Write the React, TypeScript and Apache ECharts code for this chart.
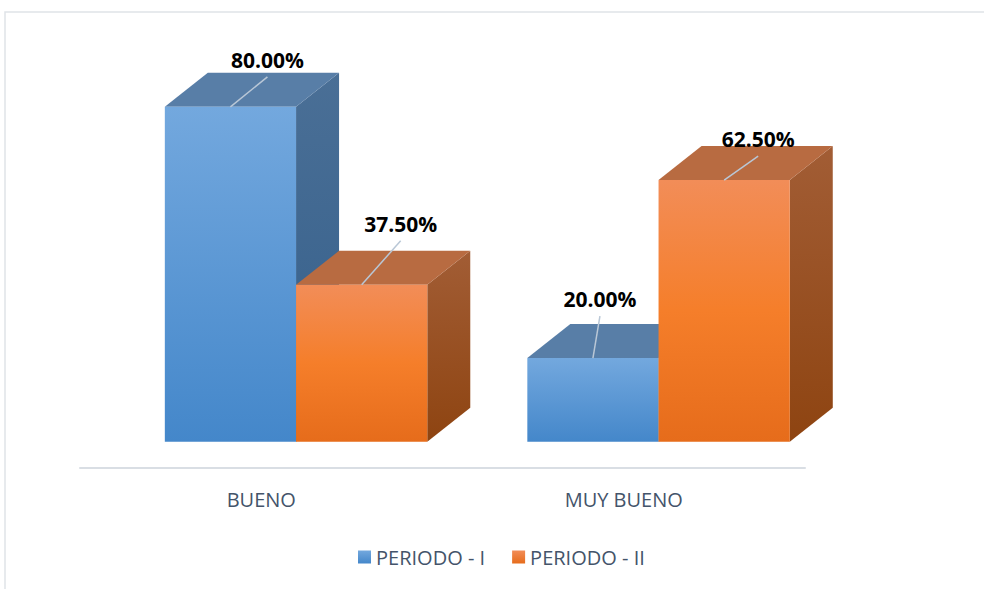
import React, { useEffect, useRef } from "react";
import * as echarts from "echarts";

const categories = ["BUENO", "MUY BUENO"];
const seriesNames = ["PERIODO - I", "PERIODO - II"];
const periodo1 = [80.0, 20.0];
const periodo2 = [37.5, 62.5];

// layout constants (pixels)
const DEPTH_X = 43;
const DEPTH_Y = 34;
const BAR_FRAC = 0.362;
const START_FRAC = -0.266;
const LABEL_OFFSETS = [
  [[37, -47], [7, -59]],
  [[39, -61], [34, -41]],
];

const PALETTE = [
  {
    frontTop: "#73a8de",
    frontBottom: "#4487ca",
    top: "#587ea7",
    sideTop: "#4a6f96",
    sideBottom: "#345f8b",
  },
  {
    frontTop: "#f28d58",
    frontMid: "#f57e2a",
    frontBottom: "#e66c1b",
    top: "#b86b41",
    sideTop: "#a25d35",
    sideBottom: "#8e4411",
  },
];

function makeRender(sIdx: number) {
  return (params: any, api: any) => {
    const cat = api.value(0);
    const val = api.value(1);
    const pTop = api.coord([cat, val]);
    const pBase = api.coord([cat, 0]);
    const band = api.size([1, 0])[0];
    const w = band * BAR_FRAC;
    const x0 = pTop[0] + band * START_FRAC + sIdx * w;
    const yT = pTop[1];
    const yB = pBase[1];
    const c: any = PALETTE[sIdx];
    const frontStops =
      sIdx === 0
        ? [
            { offset: 0, color: c.frontTop },
            { offset: 1, color: c.frontBottom },
          ]
        : [
            { offset: 0, color: c.frontTop },
            { offset: 0.5, color: c.frontMid },
            { offset: 1, color: c.frontBottom },
          ];
    const off = LABEL_OFFSETS[sIdx][params.dataIndex];
    const cx = x0 + w / 2;
    return {
      type: "group",
      children: [
        {
          type: "polygon",
          shape: {
            points: [
              [x0 + w, yT],
              [x0 + w + DEPTH_X, yT - DEPTH_Y],
              [x0 + w + DEPTH_X, yB - DEPTH_Y],
              [x0 + w, yB],
            ],
          },
          style: {
            fill: new echarts.graphic.LinearGradient(0, 0, 0, 1, [
              { offset: 0, color: c.sideTop },
              { offset: 1, color: c.sideBottom },
            ]),
          },
        },
        {
          type: "polygon",
          shape: {
            points: [
              [x0, yT],
              [x0 + DEPTH_X, yT - DEPTH_Y],
              [x0 + w + DEPTH_X, yT - DEPTH_Y],
              [x0 + w, yT],
            ],
          },
          style: { fill: c.top },
        },
        {
          type: "rect",
          shape: { x: x0, y: yT, width: w, height: yB - yT },
          style: {
            fill: new echarts.graphic.LinearGradient(0, 0, 0, 1, frontStops),
          },
        },
        {
          type: "line",
          shape: { x1: cx, y1: yT, x2: cx + off[0], y2: yT + off[1] + 17 },
          style: { stroke: "#b9c7d6", lineWidth: 1.5 },
        },
        {
          type: "text",
          x: cx + off[0],
          y: yT + off[1],
          style: {
            text: val.toFixed(2) + "%",
            fill: "#000000",
            font: 'bold 21px "Open Sans"',
            align: "center",
            verticalAlign: "middle",
          },
        },
      ],
    };
  };
}

export default function App() {
  const ref = useRef<HTMLDivElement>(null);
  useEffect(() => {
    if (!ref.current) return;
    const chart = echarts.init(ref.current, undefined, { renderer: "svg" });
    const seriesData = [periodo1, periodo2];
    chart.setOption({
      animation: false,
      backgroundColor: "#ffffff",
      grid: { left: 80, right: 179, top: 23.1, bottom: 121 },
      xAxis: {
        type: "category",
        data: categories,
        axisTick: { show: false },
        axisLine: { onZero: false, lineStyle: { color: "#d9dee4", width: 2 } },
        axisLabel: {
          color: "#44546a",
          fontFamily: "Open Sans",
          fontSize: 20,
          margin: 21,
        },
      },
      yAxis: {
        type: "value",
        min: -6.25,
        max: 100,
        show: false,
        splitLine: { show: false },
      },
      legend: {
        left: 353,
        top: 542,
        itemWidth: 13,
        itemHeight: 13,
        itemGap: 27,
        icon: "rect",
        textStyle: { color: "#44546a", fontFamily: "Open Sans", fontSize: 20 },
        data: seriesNames,
      },
      graphic: [
        {
          type: "rect",
          shape: { x: 5, y: 12, width: 1000, height: 620 },
          style: { fill: "none", stroke: "#dfe3e8", lineWidth: 1.5 },
          z: -10,
        },
      ],
      series: seriesData.map((vals, sIdx) => ({
        name: seriesNames[sIdx],
        type: "custom",
        renderItem: makeRender(sIdx),
        itemStyle: {
          color: new echarts.graphic.LinearGradient(0, 0, 0, 1, [
            { offset: 0, color: PALETTE[sIdx].frontTop },
            { offset: 1, color: PALETTE[sIdx].frontBottom },
          ]),
        },
        encode: { x: 0, y: 1 },
        data: vals.map((v, i) => [i, v]),
        z: 2 + sIdx,
      })),
    });
    return () => chart.dispose();
  }, []);
  return (
    <div
      ref={ref}
      style={{ position: "absolute", left: 0, top: 0, width: 984, height: 589 }}
    />
  );
}
